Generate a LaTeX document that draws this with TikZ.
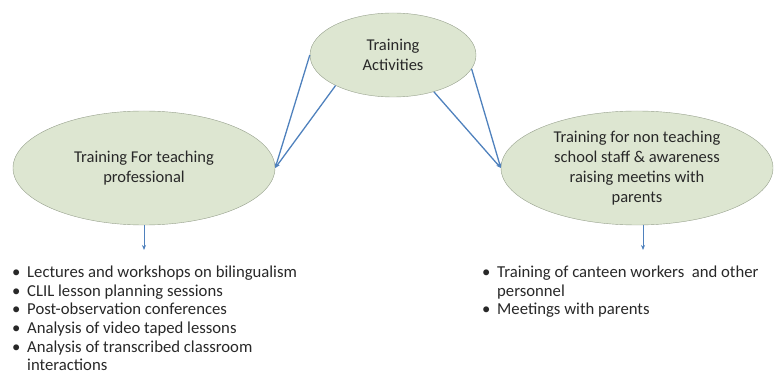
\documentclass[tikz,border=0pt]{standalone}
\usepackage{fontspec}
\setmainfont{Carlito}
\usetikzlibrary{shapes.geometric,arrows.meta}
\definecolor{ovalfill}{RGB}{221,230,209}
\definecolor{ovaldraw}{RGB}{150,160,140}
\definecolor{arrowblue}{RGB}{79,129,189}
\definecolor{txtgray}{RGB}{40,40,40}
\tikzset{
  oval/.style={ellipse,draw=ovaldraw,fill=ovalfill,inner sep=0pt,align=center,
    text=txtgray,font=\fontsize{16.5}{20}\selectfont},
  link/.style={draw=arrowblue,line width=1.3pt,-{Stealth[length=5pt,width=4pt]}},
  bullets/.style={align=left,anchor=north west,inner sep=0pt,text=txtgray,
    font=\fontsize{16.7}{18.6}\selectfont}
}
\newcommand{\itm}[1]{\makebox[15pt][l]{\textbullet}#1}
\begin{document}
\begin{tikzpicture}[x=1pt,y=-1pt]
\useasboundingbox (0,0) rectangle (775,387);
\node[oval,minimum width=166pt,minimum height=84pt] (act) at (393,55) {Training\\Activities};
\node[oval,minimum width=262pt,minimum height=114pt] (teach) at (144,168) {Training For teaching\\professional};
\node[oval,minimum width=272pt,minimum height=114pt] (staff) at (637,168)
  {Training for non teaching\\school staff \& awareness\\raising meetins with\\parents};
\draw[link] (act.west) -- (teach.east);
\draw[link] (act.208) -- (teach.east);
\draw[link] (act.350) -- (staff.west);
\draw[link] (act.318) -- (staff.west);
\coordinate (teachend) at (144,250);
\coordinate (staffend) at (643,250);
\draw[link,line width=0.9pt] (teach.south) -- (teachend);
\draw[link,line width=0.9pt] (staff.south -| staffend) -- (staffend);
\node[bullets] (teachlist) at (12,266) {\itm{Lectures and workshops on bilingualism}\\
  \itm{CLIL lesson planning sessions}\\
  \itm{Post-observation conferences}\\
  \itm{Analysis of video taped lessons}\\
  \itm{Analysis of transcribed classroom}\\
  \hspace*{15pt}interactions};
\node[bullets] (stafflist) at (482,266) {\itm{Training of canteen workers~ and other}\\
  \hspace*{15pt}personnel\\
  \itm{Meetings with parents}};
\end{tikzpicture}
\end{document}
